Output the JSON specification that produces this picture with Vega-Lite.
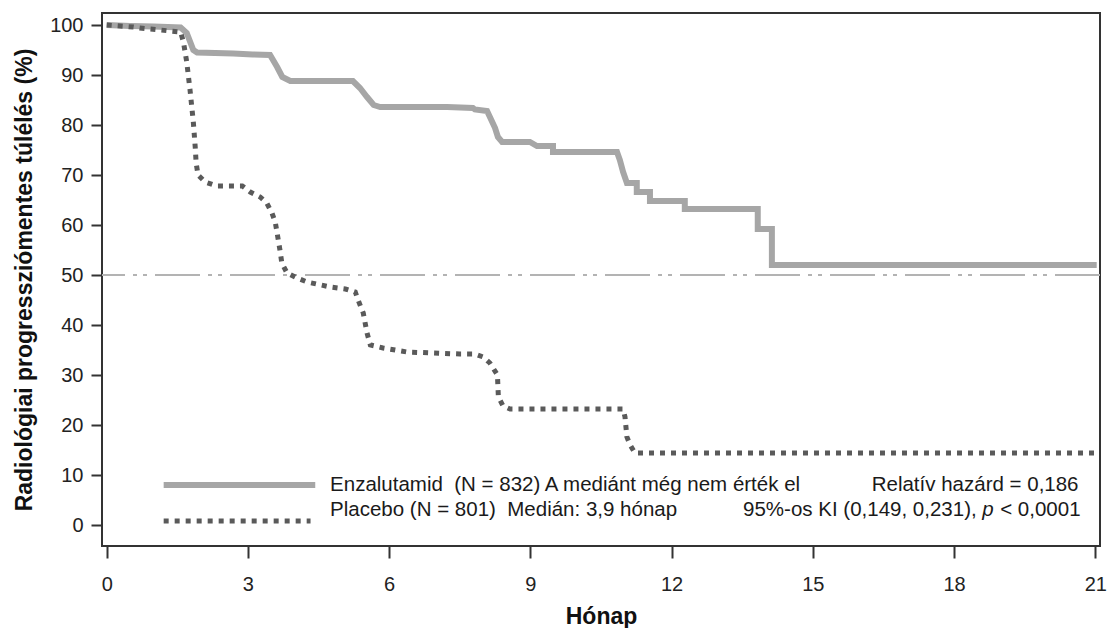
{
  "$schema": "https://vega.github.io/schema/vega-lite/v6.json",
  "width": 998,
  "height": 533,
  "autosize": {"type": "none"},
  "padding": {"left": 102, "top": 13, "right": 11, "bottom": 82},
  "background": "white",
  "config": {
    "view": {"stroke": "#333333", "strokeWidth": 2},
    "font": "Liberation Sans",
    "axis": {"grid": false, "domain": false, "tickColor": "#333333", "tickWidth": 2, "labelColor": "#222222", "titleColor": "#111111", "labelFont": "Liberation Sans", "titleFont": "Liberation Sans"}
  },
  "datasets": {
    "km": [
      {"group": "Enzalutamid", "month": 0, "pct": 100},
      {"group": "Enzalutamid", "month": 0.5, "pct": 99.8},
      {"group": "Enzalutamid", "month": 1.0, "pct": 99.7},
      {"group": "Enzalutamid", "month": 1.57, "pct": 99.5},
      {"group": "Enzalutamid", "month": 1.7, "pct": 98.4},
      {"group": "Enzalutamid", "month": 1.84, "pct": 95},
      {"group": "Enzalutamid", "month": 1.92, "pct": 94.5},
      {"group": "Enzalutamid", "month": 2.69, "pct": 94.3},
      {"group": "Enzalutamid", "month": 3.1, "pct": 94.1},
      {"group": "Enzalutamid", "month": 3.47, "pct": 94},
      {"group": "Enzalutamid", "month": 3.62, "pct": 91.6},
      {"group": "Enzalutamid", "month": 3.73, "pct": 89.6},
      {"group": "Enzalutamid", "month": 3.9, "pct": 88.8},
      {"group": "Enzalutamid", "month": 5.23, "pct": 88.8},
      {"group": "Enzalutamid", "month": 5.38, "pct": 87.4},
      {"group": "Enzalutamid", "month": 5.53, "pct": 85.6},
      {"group": "Enzalutamid", "month": 5.67, "pct": 84},
      {"group": "Enzalutamid", "month": 5.81, "pct": 83.6},
      {"group": "Enzalutamid", "month": 7.23, "pct": 83.6},
      {"group": "Enzalutamid", "month": 7.78, "pct": 83.4},
      {"group": "Enzalutamid", "month": 7.82, "pct": 83.1},
      {"group": "Enzalutamid", "month": 8.08, "pct": 82.8},
      {"group": "Enzalutamid", "month": 8.14, "pct": 81.6},
      {"group": "Enzalutamid", "month": 8.25, "pct": 79.4},
      {"group": "Enzalutamid", "month": 8.31, "pct": 77.6},
      {"group": "Enzalutamid", "month": 8.4, "pct": 76.6},
      {"group": "Enzalutamid", "month": 8.99, "pct": 76.6},
      {"group": "Enzalutamid", "month": 9.14, "pct": 75.8},
      {"group": "Enzalutamid", "month": 9.48, "pct": 75.8},
      {"group": "Enzalutamid", "month": 9.48, "pct": 74.6},
      {"group": "Enzalutamid", "month": 10.84, "pct": 74.6},
      {"group": "Enzalutamid", "month": 10.9, "pct": 73},
      {"group": "Enzalutamid", "month": 10.97, "pct": 70.6},
      {"group": "Enzalutamid", "month": 11.05, "pct": 68.4},
      {"group": "Enzalutamid", "month": 11.26, "pct": 68.4},
      {"group": "Enzalutamid", "month": 11.26, "pct": 66.6},
      {"group": "Enzalutamid", "month": 11.54, "pct": 66.6},
      {"group": "Enzalutamid", "month": 11.54, "pct": 64.8},
      {"group": "Enzalutamid", "month": 12.28, "pct": 64.8},
      {"group": "Enzalutamid", "month": 12.28, "pct": 63.2},
      {"group": "Enzalutamid", "month": 13.83, "pct": 63.2},
      {"group": "Enzalutamid", "month": 13.83, "pct": 59.2},
      {"group": "Enzalutamid", "month": 14.13, "pct": 59.2},
      {"group": "Enzalutamid", "month": 14.13, "pct": 52},
      {"group": "Enzalutamid", "month": 21.03, "pct": 52},
      {"group": "Placebo", "month": 0, "pct": 100},
      {"group": "Placebo", "month": 0.57, "pct": 99.6},
      {"group": "Placebo", "month": 0.7, "pct": 99.4},
      {"group": "Placebo", "month": 1.57, "pct": 98.6},
      {"group": "Placebo", "month": 1.63, "pct": 96.6},
      {"group": "Placebo", "month": 1.7, "pct": 92.6},
      {"group": "Placebo", "month": 1.77, "pct": 87},
      {"group": "Placebo", "month": 1.84, "pct": 80.6},
      {"group": "Placebo", "month": 1.88, "pct": 75.6},
      {"group": "Placebo", "month": 1.9, "pct": 72.4},
      {"group": "Placebo", "month": 1.94, "pct": 70},
      {"group": "Placebo", "month": 2.09, "pct": 68.6},
      {"group": "Placebo", "month": 2.34, "pct": 67.8},
      {"group": "Placebo", "month": 2.88, "pct": 67.8},
      {"group": "Placebo", "month": 3.05, "pct": 66.6},
      {"group": "Placebo", "month": 3.26, "pct": 65.6},
      {"group": "Placebo", "month": 3.4, "pct": 64.4},
      {"group": "Placebo", "month": 3.51, "pct": 62.4},
      {"group": "Placebo", "month": 3.58, "pct": 60.6},
      {"group": "Placebo", "month": 3.62, "pct": 58.4},
      {"group": "Placebo", "month": 3.68, "pct": 55},
      {"group": "Placebo", "month": 3.72, "pct": 52.4},
      {"group": "Placebo", "month": 3.83, "pct": 50.4},
      {"group": "Placebo", "month": 4.04, "pct": 49.4},
      {"group": "Placebo", "month": 4.26, "pct": 48.6},
      {"group": "Placebo", "month": 4.75, "pct": 47.6},
      {"group": "Placebo", "month": 5.07, "pct": 47.2},
      {"group": "Placebo", "month": 5.28, "pct": 46.6},
      {"group": "Placebo", "month": 5.34, "pct": 45},
      {"group": "Placebo", "month": 5.45, "pct": 42.4},
      {"group": "Placebo", "month": 5.53, "pct": 38.4},
      {"group": "Placebo", "month": 5.6, "pct": 36},
      {"group": "Placebo", "month": 5.87, "pct": 35.4},
      {"group": "Placebo", "month": 6.38, "pct": 34.6},
      {"group": "Placebo", "month": 7.5, "pct": 34.2},
      {"group": "Placebo", "month": 7.82, "pct": 34.2},
      {"group": "Placebo", "month": 8.0, "pct": 33.6},
      {"group": "Placebo", "month": 8.14, "pct": 32.4},
      {"group": "Placebo", "month": 8.3, "pct": 30},
      {"group": "Placebo", "month": 8.32, "pct": 25.6},
      {"group": "Placebo", "month": 8.42, "pct": 23.8},
      {"group": "Placebo", "month": 8.57, "pct": 23.2},
      {"group": "Placebo", "month": 10.97, "pct": 23.2},
      {"group": "Placebo", "month": 11.01, "pct": 21.6},
      {"group": "Placebo", "month": 11.05, "pct": 17.6},
      {"group": "Placebo", "month": 11.12, "pct": 16},
      {"group": "Placebo", "month": 11.22, "pct": 14.4},
      {"group": "Placebo", "month": 21.03, "pct": 14.4}
    ],
    "ref": [{"level": 50}],
    "one": [{}]
  },
  "layer": [
    {
      "data": {"name": "ref"},
      "mark": {"type": "rule", "color": "#b3b3b3", "strokeWidth": 2, "strokeDash": [45, 8, 4, 6, 4, 8]},
      "encoding": {
        "y": {"field": "level", "type": "quantitative", "scale": {"domain": [-4.2, 102.4], "nice": false, "zero": false}}
      }
    },
    {
      "data": {"name": "km"},
      "transform": [{"filter": "datum.group === 'Enzalutamid'"}],
      "mark": {"type": "line", "color": "#a6a6a6", "strokeWidth": 6, "strokeJoin": "miter", "strokeCap": "butt"},
      "encoding": {
        "x": {"field": "month", "type": "quantitative", "scale": {"domain": [-0.1, 21.1], "nice": false, "zero": false},
          "axis": {"values": [0, 3, 6, 9, 12, 15, 18, 21], "tickSize": 12, "labelFontSize": 20, "labelPadding": 16, "title": "Hónap", "titleFontSize": 23, "titleFontWeight": "bold", "titlePadding": 11}},
        "y": {"field": "pct", "type": "quantitative", "scale": {"domain": [-4.2, 102.4], "nice": false, "zero": false},
          "axis": {"values": [0, 10, 20, 30, 40, 50, 60, 70, 80, 90, 100], "tickSize": 11, "labelFontSize": 20, "labelPadding": 8, "title": "Radiológiai progressziómentes túlélés (%)", "titleFontSize": 23, "titleFontWeight": "bold", "titlePadding": 13}}
      }
    },
    {
      "data": {"name": "km"},
      "transform": [{"filter": "datum.group === 'Placebo'"}],
      "mark": {"type": "line", "color": "#5a5a5a", "strokeWidth": 5, "strokeDash": [5, 6], "strokeCap": "butt"},
      "encoding": {
        "x": {"field": "month", "type": "quantitative"},
        "y": {"field": "pct", "type": "quantitative"}
      }
    },
    {
      "data": {"name": "one"},
      "mark": {"type": "rule", "color": "#a6a6a6", "strokeWidth": 6, "strokeCap": "butt"},
      "encoding": {"x": {"datum": 1.21}, "x2": {"datum": 4.43}, "y": {"datum": 8.0}}
    },
    {
      "data": {"name": "one"},
      "mark": {"type": "rule", "color": "#5a5a5a", "strokeWidth": 5, "strokeDash": [5, 6], "strokeCap": "butt"},
      "encoding": {"x": {"datum": 1.21}, "x2": {"datum": 4.33}, "y": {"datum": 0.8}}
    },
    {
      "data": {"name": "one"},
      "mark": {"type": "text", "align": "left", "baseline": "middle", "fontSize": 20.5, "color": "#1a1a1a", "text": "Enzalutamid\u00a0 (N = 832) A mediánt még nem érték el"},
      "encoding": {"x": {"datum": 4.745}, "y": {"datum": 8.0}}
    },
    {
      "data": {"name": "one"},
      "mark": {"type": "text", "align": "left", "baseline": "middle", "fontSize": 20.5, "color": "#1a1a1a", "text": "Placebo (N = 801)\u00a0 Medián: 3,9 hónap"},
      "encoding": {"x": {"datum": 4.745}, "y": {"datum": 3.0}}
    },
    {
      "data": {"name": "one"},
      "mark": {"type": "text", "align": "left", "baseline": "middle", "fontSize": 20.5, "color": "#1a1a1a", "text": "Relatív hazárd = 0,186"},
      "encoding": {"x": {"datum": 16.25}, "y": {"datum": 8.0}}
    },
    {
      "data": {"name": "one"},
      "mark": {"type": "text", "align": "right", "baseline": "middle", "fontSize": 20.5, "color": "#1a1a1a", "text": "95%-os KI (0,149, 0,231),"},
      "encoding": {"x": {"datum": 18.48}, "y": {"datum": 3.0}}
    },
    {
      "data": {"name": "one"},
      "mark": {"type": "text", "align": "left", "baseline": "middle", "fontSize": 20.5, "fontStyle": "italic", "color": "#1a1a1a", "text": "p"},
      "encoding": {"x": {"datum": 18.6}, "y": {"datum": 3.0}}
    },
    {
      "data": {"name": "one"},
      "mark": {"type": "text", "align": "left", "baseline": "middle", "fontSize": 20.5, "color": "#1a1a1a", "text": "< 0,0001"},
      "encoding": {"x": {"datum": 18.98}, "y": {"datum": 3.0}}
    }
  ]
}
